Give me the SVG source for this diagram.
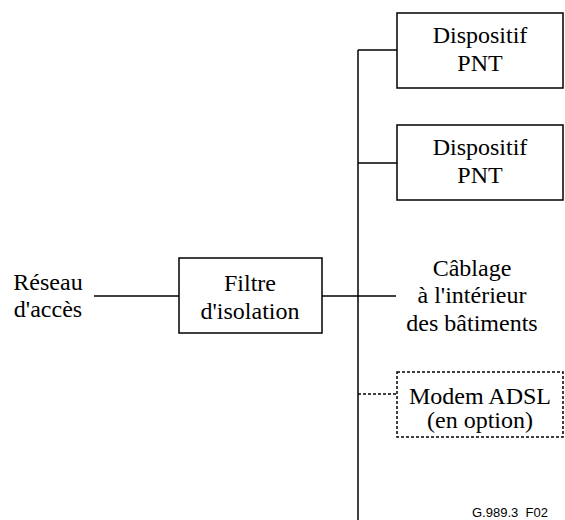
<svg xmlns="http://www.w3.org/2000/svg" width="565" height="520" viewBox="0 0 565 520">
<style>
.box{fill:#fff;stroke:#000;stroke-width:1.5}
.dot{fill:#fff;stroke:#000;stroke-width:1.5;stroke-dasharray:3,2}
.ln{stroke:#000;stroke-width:1.5;fill:none}
.dl{stroke:#000;stroke-width:1.5;fill:none;stroke-dasharray:3,2}
.t{font-family:"Liberation Serif","Times New Roman",serif;font-size:24px;text-anchor:middle;fill:#000}
.s{font-family:"Liberation Sans",Arial,sans-serif;font-size:13px;fill:#000;white-space:pre}
</style>
<rect width="565" height="520" fill="#fff"/>
<g id="connectors">
<line class="ln" x1="358" y1="50" x2="358" y2="520"/>
<line class="ln" x1="358" y1="50" x2="397" y2="50"/>
<line class="ln" x1="358" y1="163" x2="397" y2="163"/>
<line class="ln" x1="94" y1="296" x2="179" y2="296"/>
<line class="ln" x1="322" y1="296" x2="396" y2="296"/>
<line class="dl" x1="358" y1="394" x2="397" y2="394"/>
</g>
<g id="pnt1">
<rect class="box" x="397" y="13" width="166" height="75"/>
<text class="t" x="480" y="43">Dispositif</text>
<text class="t" x="480" y="71">PNT</text>
</g>
<g id="pnt2">
<rect class="box" x="397" y="125" width="166" height="75"/>
<text class="t" x="480" y="155">Dispositif</text>
<text class="t" x="480" y="183">PNT</text>
</g>
<g id="reseau">
<text class="t" x="48" y="290">Réseau</text>
<text class="t" x="48" y="317">d'accès</text>
</g>
<g id="filtre">
<rect class="box" x="179" y="258" width="143" height="75"/>
<text class="t" x="250" y="291">Filtre</text>
<text class="t" x="250" y="319">d'isolation</text>
</g>
<g id="cablage">
<text class="t" x="472" y="276">Câblage</text>
<text class="t" x="472" y="303">à l'intérieur</text>
<text class="t" x="472" y="331">des bâtiments</text>
</g>
<g id="modem">
<rect class="dot" x="397" y="372" width="166" height="65"/>
<text class="t" x="480" y="404">Modem ADSL</text>
<text class="t" x="480" y="428">(en option)</text>
</g>
<text class="s" x="472" y="517" xml:space="preserve">G.989.3  F02</text>
</svg>
